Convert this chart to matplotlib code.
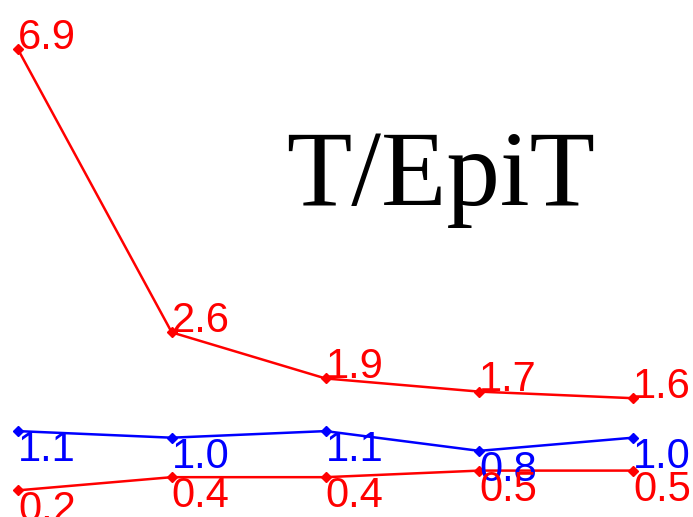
import matplotlib
matplotlib.use("Agg")
import matplotlib.pyplot as plt

# 数据
samples = [1, 2, 3, 4, 5]
upper_red = [6.9, 2.6, 1.9, 1.7, 1.6]
blue_vals = [1.1, 1.0, 1.1, 0.8, 1.0]
lower_red = [0.2, 0.4, 0.4, 0.5, 0.5]
title_text = "T/EpiT"

fig = plt.figure(figsize=(6.93, 5.17), dpi=100)
ax = fig.add_axes([0, 0, 1, 1])
ax.set_axis_off()

x = list(range(len(samples)))
series = [
    (upper_red, "#ff0000", "baseline"),
    (blue_vals, "#0000ff", "top"),
    (lower_red, "#ff0000", "top"),
]

for values, color, va in series:
    ax.plot(x, values, color=color, lw=1.8, marker="D", ms=5.5, mec=color, mfc=color)
    for xi, v in zip(x, values):
        ax.annotate("%.1f" % v, (xi, v), xytext=(0, 0.5), textcoords="offset points",
                    ha="left", va=va, color=color, fontsize=30,
                    family="Liberation Sans")

ax.text(0.636, 0.603, title_text, transform=ax.transAxes, ha="center", va="baseline",
        fontsize=77, family="Liberation Serif", color="black")

ax.set_xlim(-0.117, 4.39)
ax.set_ylim(-0.205, 7.65)

fig.savefig("out.png", dpi=100)
